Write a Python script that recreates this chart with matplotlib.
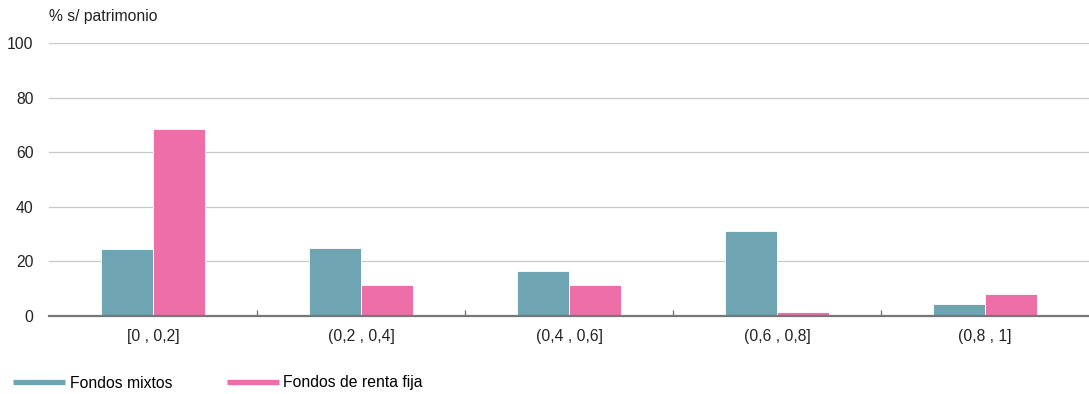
import numpy as np
import matplotlib.pyplot as plt
from matplotlib.lines import Line2D

plt.rcParams['font.family'] = ['Liberation Sans', 'DejaVu Sans']

# data
categories = ['[0 , 0,2]', '(0,2 , 0,4]', '(0,4 , 0,6]', '(0,6 , 0,8]', '(0,8 , 1]']
mixtos = [24.4, 24.9, 16.4, 31.0, 4.3]
renta_fija = [68.4, 11.4, 11.4, 1.4, 8.2]
series_names = ['Fondos mixtos', 'Fondos de renta fija']
colors = ['#6FA4B2', '#EE6FA7']

fs = 11.3
fig = plt.figure(figsize=(10.89, 3.94), dpi=100)
ax = fig.add_axes([49 / 1089, 1 - 316 / 394, 1 - 49 / 1089, (316 - 43) / 394])

x = np.arange(len(categories))
w = 0.25
ax.bar(x - w / 2, mixtos, w, color=colors[0], edgecolor='white', linewidth=0.6, zorder=3)
ax.bar(x + w / 2, renta_fija, w, color=colors[1], edgecolor='white', linewidth=0.6, zorder=3)

ax.set_xlim(-0.5, len(categories) - 0.5)
ax.set_ylim(0, 100)
ax.set_yticks([0, 20, 40, 60, 80, 100])
ax.yaxis.grid(True, color='#C8C8C8', linewidth=0.9, zorder=0)
ax.tick_params(axis='y', length=0, labelsize=fs, labelcolor='#222222', pad=11)

# category labels centered, tick marks at the boundaries
ax.set_xticks(x)
ax.set_xticklabels(categories)
ax.tick_params(axis='x', length=0, labelsize=fs, labelcolor='#222222', pad=9)
ax.set_xticks(np.arange(0.5, len(categories) - 0.5, 1), minor=True)
ax.tick_params(axis='x', which='minor', direction='in', length=4, color='#777777', width=1)

for side in ['top', 'right', 'left']:
    ax.spines[side].set_visible(False)
ax.spines['bottom'].set_color('#777777')
ax.spines['bottom'].set_linewidth(1.6)
ax.spines['bottom'].set_zorder(4)

fig.text(49 / 1089, 1 - 17 / 394, '% s/ patrimonio', fontsize=fs, color='#222222',
         va='center', ha='left')

handles = [Line2D([], [], color=c, linewidth=3.8, solid_capstyle='butt') for c in colors]
fig.legend(handles, series_names, loc='center left', bbox_to_anchor=(13 / 1089, 1 - 383 / 394),
           ncol=2, frameon=False, fontsize=fs, handlelength=3.3, handletextpad=0.3,
           columnspacing=3.5, borderaxespad=0, borderpad=0)

fig.savefig('out.png', dpi=100)
